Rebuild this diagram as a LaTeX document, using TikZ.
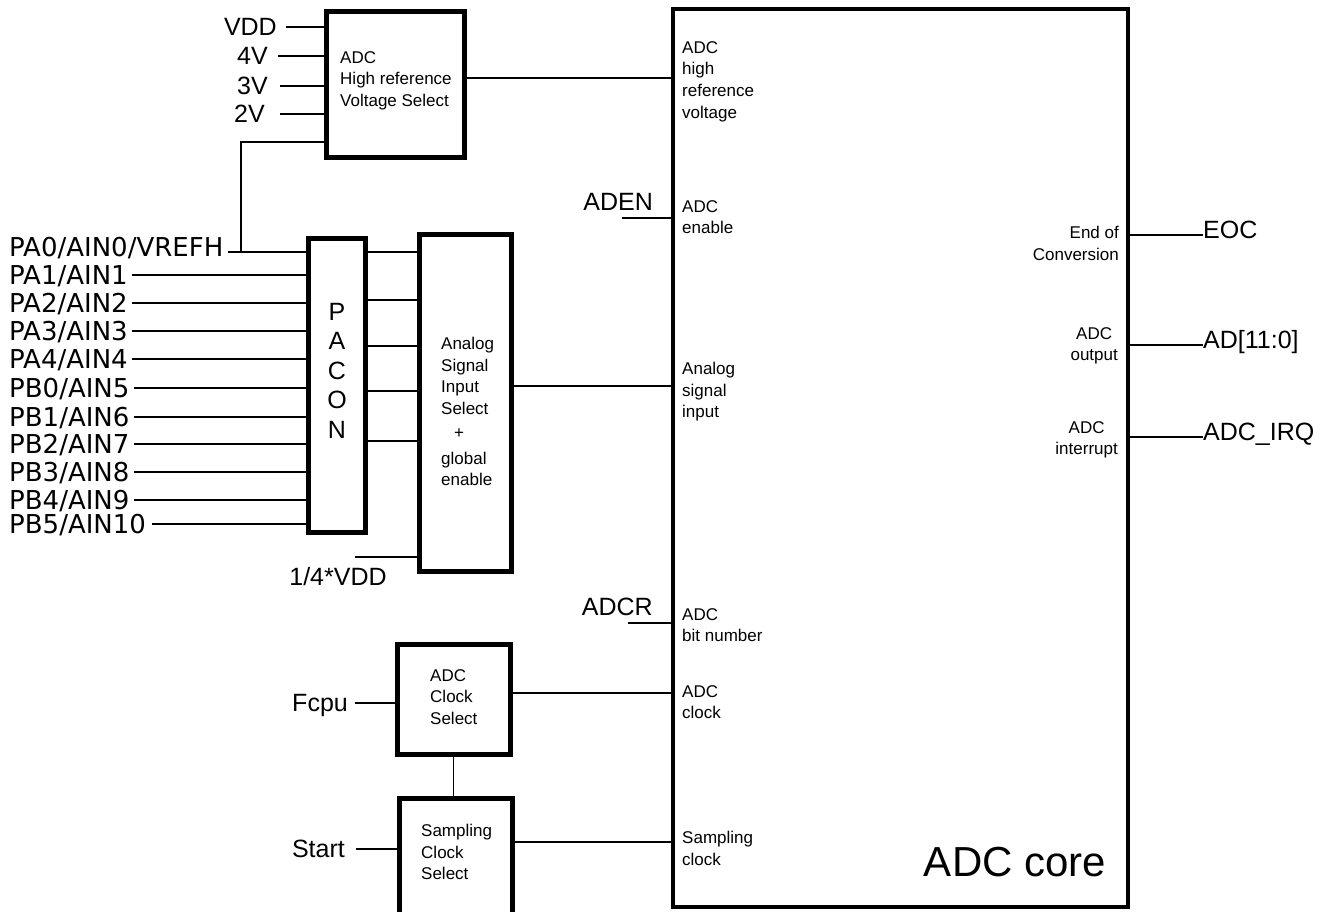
\documentclass[tikz,border=0pt]{standalone}
\usepackage{fontspec}
\setmainfont{Liberation Sans}
\newfontfamily\pafont{DejaVu Sans}
\begin{document}
\begin{tikzpicture}[x=1pt,y=-1pt,
  lab/.style={font=\fontsize{25}{30}\selectfont, inner sep=0pt, text height=17.9pt, text depth=0pt},
  palab/.style={font=\pafont\fontsize{26}{30}\selectfont, inner sep=0pt, text height=19pt, text depth=0pt, anchor=west},
  small/.style={font=\fontsize{17}{21.7}\selectfont, inner sep=0pt, align=left, anchor=north west},
  smallr/.style={font=\fontsize{17}{21.7}\selectfont, inner sep=0pt, anchor=north east},
  blk/.style={draw, line width=5pt, inner sep=0pt, outer sep=0pt, anchor=north west},
  wire/.style={line width=1.4pt},
]
\useasboundingbox[fill=white] (0,0) rectangle (1324,911);

% blocks
\node[blk, minimum width=138pt, minimum height=146pt] (hr) at (326,11) {};
\node[blk, minimum width=57pt, minimum height=294pt] (pacon) at (308,238) {};
\node[blk, minimum width=92pt, minimum height=337pt] (asis) at (419,234) {};
\node[blk, minimum width=113pt, minimum height=110pt] (clk) at (397,644) {};
\node[blk, minimum width=113pt, minimum height=122pt] (samp) at (399,798) {};
\node[blk, line width=4pt, minimum width=455pt, minimum height=898pt] (core) at (673,9) {};

% block texts
\node[small] (hrt) at (340,51) {ADC\\High reference\\Voltage Select};
\node[font=\fontsize{25}{29.5}\selectfont, inner sep=0pt, align=center, anchor=north] (pacont) at (337,303) {P\\A\\C\\O\\N};
\node[small] (asist) at (441,337) {Analog\\Signal\\Input\\Select\\[2pt]\hspace*{13pt}+\\[4pt]global\\enable};
\node[small] (clkt) at (430,669) {ADC\\Clock\\Select};
\node[small] (sampt) at (421,824) {Sampling\\Clock\\Select};
\node[font=\fontsize{42}{50}\selectfont, inner sep=0pt] (coret) at (1015,862) {ADC core};

% core port labels
\node[small] (p1) at (682,41) {ADC\\high\\reference\\voltage};
\node[small] (p2) at (682,200) {ADC\\enable};
\node[small] (p3) at (682,362) {Analog\\signal\\input};
\node[small] (p4) at (682,608) {ADC\\bit number};
\node[small] (p5) at (682,685) {ADC\\clock};
\node[small] (p6) at (682,831) {Sampling\\clock};
\node[smallr, align=right] (p7) at (1119,226) {End of\\Conversion};
\node[smallr, align=center] (p8) at (1118,327) {ADC\\output};
\node[smallr, align=center] (p9) at (1118,421) {ADC\\interrupt};

% reference voltage inputs
\node[lab, anchor=east] (vdd) at (277,27) {VDD};
\node[lab, anchor=east] (v4) at (268,56) {4V};
\node[lab, anchor=east] (v3) at (268,86) {3V};
\node[lab, anchor=east] (v2) at (265,114) {2V};
\draw[wire] ([xshift=9pt]vdd.east) -- (vdd.east -| hr.west);
\draw[wire] ([xshift=10pt]v4.east) -- (v4.east -| hr.west);
\draw[wire] ([xshift=12pt]v3.east) -- (v3.east -| hr.west);
\draw[wire] ([xshift=15pt]v2.east) -- (v2.east -| hr.west);
\draw[wire] (hr.east |- 0,78) -- (core.west |- 0,78);

% pin inputs
\node[palab] (pa0) at (9,247) {PA0/AIN0/VREFH};
\node[palab] (pa1) at (9,275) {PA1/AIN1};
\node[palab] (pa2) at (9,303) {PA2/AIN2};
\node[palab] (pa3) at (9,331) {PA3/AIN3};
\node[palab] (pa4) at (9,359) {PA4/AIN4};
\node[palab] (pb0) at (9,388) {PB0/AIN5};
\node[palab] (pb1) at (9,417) {PB1/AIN6};
\node[palab] (pb2) at (9,444) {PB2/AIN7};
\node[palab] (pb3) at (9,472) {PB3/AIN8};
\node[palab] (pb4) at (9,500) {PB4/AIN9};
\node[palab] (pb5) at (9,524) {PB5/AIN10};
\coordinate (pa0w) at (228,252);
\draw[wire] (pa0w) -- (pa0w -| pacon.west);
\coordinate (vj) at (241,252);
\draw[wire] (vj) |- (hr.west |- 0,142);
\foreach \p in {pa1,pa2,pa3,pa4,pb0,pb1,pb2,pb3,pb4}
  \draw[wire] ([xshift=4pt]\p.east) -- (\p.east -| pacon.west);
\draw[wire] ([xshift=6pt]pb5.east) -- (pb5.east -| pacon.west);

% PACON to selector
\foreach \y in {252,300,346,391,441}
  \draw[wire] (pacon.east |- 0,\y) -- (asis.west |- 0,\y);
\node[lab] (qvdd) at (338,577) {1/4*VDD};
\coordinate (qw) at (355,557);
\draw[wire] (qw) -- (qw -| asis.west);
\draw[wire] (asis.east |- 0,386) -- (core.west |- 0,386);

% control inputs
\node[lab, anchor=east] (aden) at (653,202) {ADEN};
\coordinate (adenw) at (622,218);
\draw[wire] (adenw) -- (adenw -| core.west);
\node[lab, anchor=east] (adcr) at (653,607) {ADCR};
\coordinate (adcrw) at (628,623);
\draw[wire] (adcrw) -- (adcrw -| core.west);

% clocks
\node[lab, anchor=east] (fcpu) at (348,703) {Fcpu};
\draw[wire] ([xshift=7pt]fcpu.east) -- (fcpu.east -| clk.west);
\draw[wire] (clk.east |- 0,693) -- (core.west |- 0,693);
\draw[wire] (clk.south) -- (clk.south |- samp.north);
\node[lab, anchor=east] (start) at (345,849) {Start};
\draw[wire] ([xshift=11pt]start.east) -- (start.east -| samp.west);
\draw[wire] (samp.east |- 0,842) -- (core.west |- 0,842);

% outputs
\node[lab, anchor=west] (eoc) at (1203,230) {EOC};
\draw[wire] (core.east |- 0,235) -- (eoc.west |- 0,235);
\node[lab, anchor=west] (ad) at (1203,340) {AD[11:0]};
\draw[wire] (core.east |- 0,345) -- (ad.west |- 0,345);
\node[lab, anchor=west] (irq) at (1203,432) {ADC\_IRQ};
\draw[wire] (core.east |- 0,437) -- (irq.west |- 0,437);
\end{tikzpicture}
\end{document}
